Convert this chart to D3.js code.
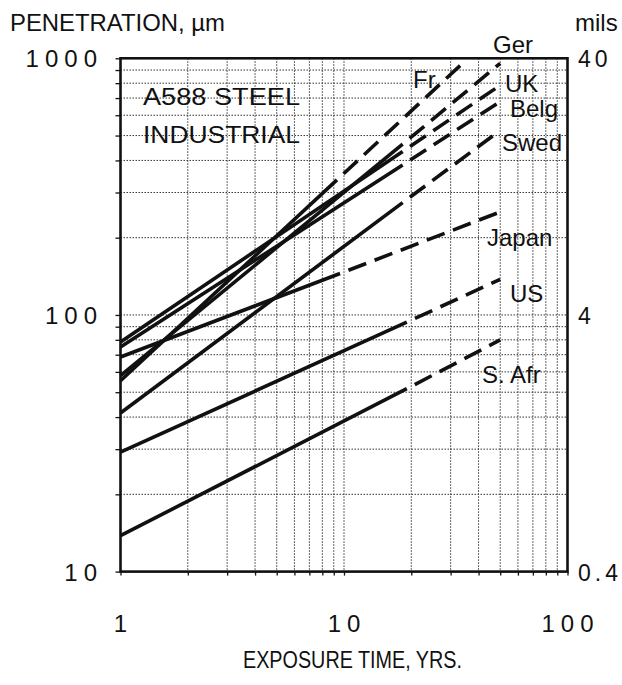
<!DOCTYPE html>
<html><head><meta charset="utf-8">
<script src="https://cdn.jsdelivr.net/npm/d3@7"></script>
<style>
html,body{margin:0;padding:0;background:#fff;}
svg{display:block;}
text{font-family:"Liberation Sans", Arial, Helvetica, sans-serif; fill:#111;}
</style></head><body>
<svg id="chart" width="622" height="685"></svg>
<script>
// A588 weathering steel, industrial atmospheres: penetration vs exposure time
const countries = ["Ger", "Fr", "UK", "Belg", "Swed", "Japan", "US", "S. Afr"];
// penetration (µm) after one year
const penYear1 = [58, 55.4, 78.5, 75, 41.5, 68.6, 29.2, 13.8];
// end of the measured period (years) and penetration reached (µm)
const measuredYears = [18.3, 9.3, 18.3, 18.3, 18.3, 9.6, 19.1, 19.1];
const penMeasured = [463, 336, 433, 384, 274, 145, 93.7, 51.6];
// extrapolated period (years) and projected penetration (µm)
const projectedYears = [50, 33.7, 50, 50, 48, 50, 50, 50];
const penProjected = [956, 951, 785, 678, 510, 252, 137.7, 79.9];

const xMajor = [1, 10, 100];
const yMajor = [10, 100, 1000];
const milMajor = [0.4, 4, 40];

const svg = d3.select("#chart");
const L = 120.5, R = 567.5, T = 58.3, B = 571.6;

const x = d3.scaleLog().domain([1, 100]).range([L, R]);
const y = d3.scaleLog().domain([10, 1000]).range([B, T]);
const yMil = d3.scaleLog().domain([0.4, 40]).range([B, T]);

// dotted grid on every decade subdivision
const grid = svg.append("g").attr("stroke", "#333").attr("stroke-width", 1)
  .attr("stroke-dasharray", "1.5,1.5").attr("fill", "none");
grid.selectAll("line.gx").data(x.ticks().filter(d => d > 1 && d < 100)).join("line")
  .attr("x1", d => x(d)).attr("x2", d => x(d)).attr("y1", T).attr("y2", B);
grid.selectAll("line.gy").data(y.ticks().filter(d => d > 10 && d < 1000)).join("line")
  .attr("x1", L).attr("x2", R).attr("y1", d => y(d)).attr("y2", d => y(d));

// small outward ticks on the left and bottom axes
const axL = svg.append("g").attr("transform", `translate(${L},0)`)
  .call(d3.axisLeft(y).tickValues(y.ticks()).tickSize(5).tickFormat(""));
const axB = svg.append("g").attr("transform", `translate(0,${B})`)
  .call(d3.axisBottom(x).tickValues(x.ticks()).tickSize(4).tickFormat(""));
[axL, axB].forEach(a => {
  a.select(".domain").remove();
  a.selectAll(".tick line").attr("stroke", "#111").attr("stroke-width", 1.3);
});

// frame
svg.append("rect").attr("x", L).attr("y", T).attr("width", R - L).attr("height", B - T)
  .attr("fill", "none").attr("stroke", "#111").attr("stroke-width", 2.6);

// corrosion curves: solid over the measured period, dashed for the projection
const series = countries.map((c, i) => ({
  name: c,
  measured: [[1, penYear1[i]], [measuredYears[i], penMeasured[i]]],
  projected: [[measuredYears[i], penMeasured[i]], [projectedYears[i], penProjected[i]]]
}));
const line = d3.line().x(d => x(d[0])).y(d => y(d[1]));
const curves = svg.append("g").attr("fill", "none").attr("stroke", "#111")
  .attr("stroke-width", 3.6);
curves.selectAll("path.m").data(series).join("path")
  .attr("d", d => line(d.measured));
curves.selectAll("path.p").data(series).join("path")
  .attr("d", d => line(d.projected))
  .attr("stroke-dasharray", "19,9").attr("stroke-dashoffset", 19);

// curve labels
const labelPos = {
  "Ger": [493, 53], "Fr": [413, 88], "UK": [505, 92], "Belg": [510, 117],
  "Swed": [502, 151], "Japan": [487, 246], "US": [510, 302], "S. Afr": [482, 383]
};
svg.append("g").selectAll("text").data(countries).join("text")
  .attr("x", d => labelPos[d][0]).attr("y", d => labelPos[d][1])
  .attr("font-size", 24).text(d => d);

// inset title
svg.append("text").attr("x", 143).attr("y", 105).attr("font-size", 23)
  .attr("textLength", 157).attr("lengthAdjust", "spacingAndGlyphs").text("A588 STEEL");
svg.append("text").attr("x", 143).attr("y", 143).attr("font-size", 23)
  .attr("textLength", 157).attr("lengthAdjust", "spacingAndGlyphs").text("INDUSTRIAL");

// tick labels
const ls = 6;
svg.append("g").selectAll("text").data(yMajor).join("text")
  .attr("x", 97 + ls).attr("y", d => y(d) + 9).attr("text-anchor", "end")
  .attr("font-size", 24).attr("letter-spacing", ls).text(d => d);
svg.append("g").selectAll("text").data(milMajor).join("text")
  .attr("x", 578).attr("y", d => yMil(d) + 9)
  .attr("font-size", 23).attr("letter-spacing", 4).text(d => d);
svg.append("g").selectAll("text").data(xMajor).join("text")
  .attr("x", d => x(d) + ls / 2).attr("y", 632).attr("text-anchor", "middle")
  .attr("font-size", 24).attr("letter-spacing", ls).text(d => d);

// axis titles
svg.append("text").attr("x", 10).attr("y", 31).attr("font-size", 24)
  .attr("textLength", 215).attr("lengthAdjust", "spacingAndGlyphs").text("PENETRATION, µm");
svg.append("text").attr("x", 575).attr("y", 31).attr("font-size", 24).text("mils");
svg.append("text").attr("x", 243).attr("y", 668).attr("font-size", 23)
  .attr("textLength", 219).attr("lengthAdjust", "spacingAndGlyphs").text("EXPOSURE TIME, YRS.");
</script>
</body></html>
